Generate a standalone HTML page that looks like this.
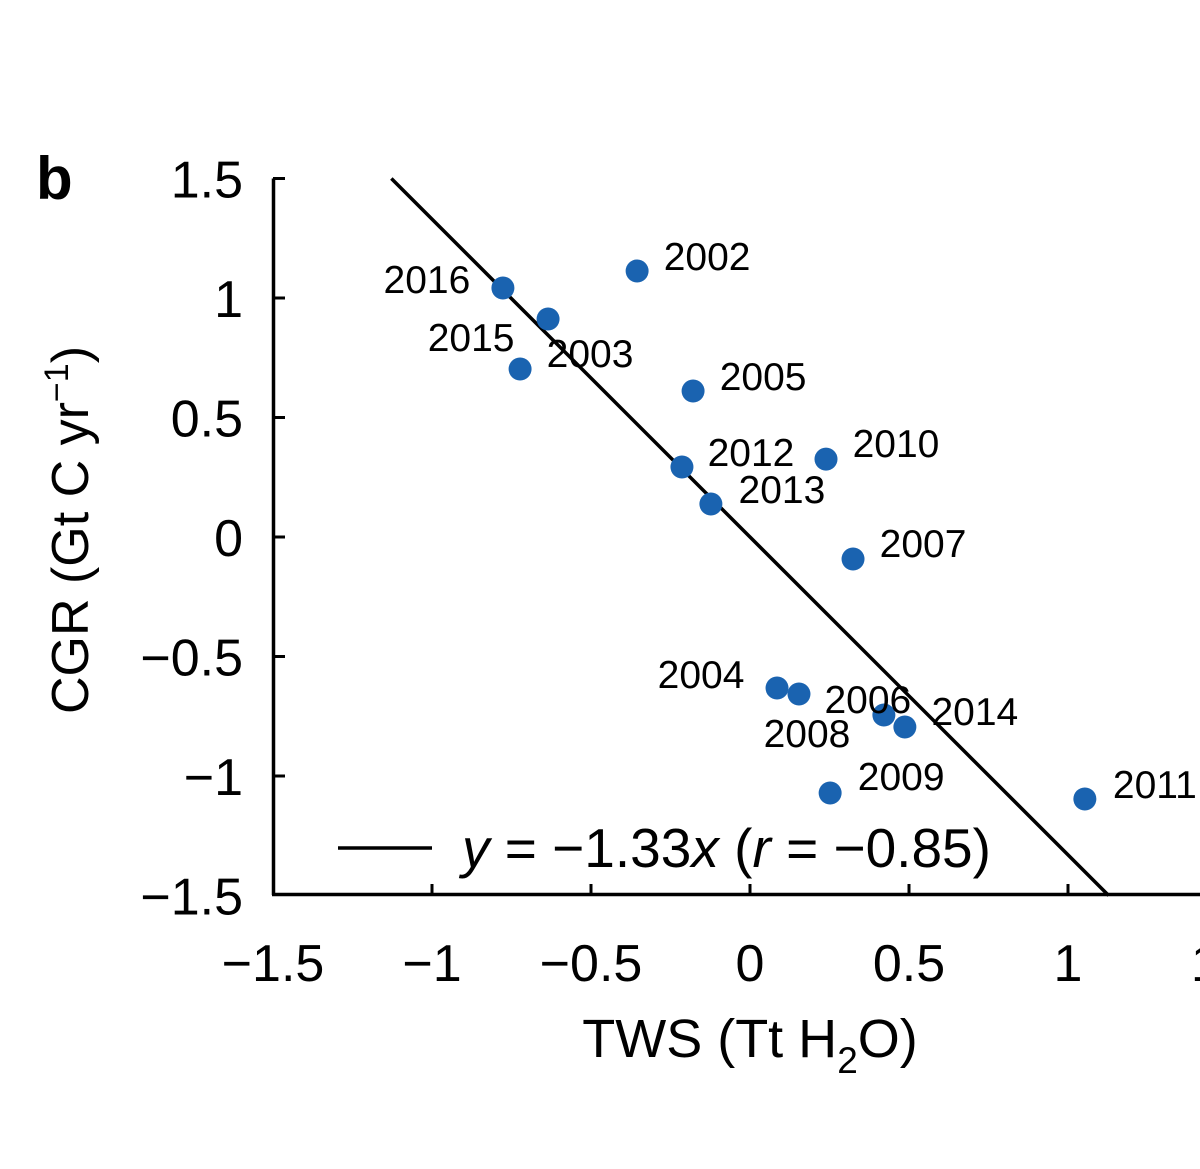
<!DOCTYPE html>
<html><head><meta charset="utf-8"><style>
html,body{margin:0;padding:0;background:#fff;}
svg{display:block;font-family:"Liberation Sans",sans-serif;}
</style></head><body>
<svg id="chart" width="1200" height="1169" viewBox="0 0 1200 1169">
<text x="36" y="199" font-size="60" font-weight="bold">b</text>
<g id="axes"></g>
<g id="fit"></g>
<g id="points"></g>
<g>
<line x1="338" y1="848" x2="432" y2="848" stroke="#000" stroke-width="3.5"/>
<text x="462" y="867" font-size="55"><tspan font-style="italic">y</tspan> = −1.33<tspan font-style="italic">x</tspan> (<tspan font-style="italic">r</tspan> = −0.85)</text>
</g>
<text transform="translate(88,530) rotate(-90)" text-anchor="middle" font-size="52">CGR (Gt C yr<tspan dy="-20" font-size="34">−1</tspan><tspan dy="20">)</tspan></text>
<text x="750" y="1057" text-anchor="middle" font-size="54">TWS (Tt H<tspan dy="16" font-size="37">2</tspan><tspan dy="-16">O)</tspan></text>
</svg>
<script>
const years = ["2016","2003","2015","2002","2005","2012","2013","2010","2007","2004","2008","2006","2014","2009","2011"];
const tws = [-0.777,-0.635,-0.723,-0.355,-0.179,-0.214,-0.123,0.239,0.324,0.085,0.154,0.421,0.487,0.252,1.053];
const cgr = [1.042,0.912,0.703,1.113,0.611,0.293,0.138,0.326,-0.092,-0.632,-0.657,-0.745,-0.795,-1.071,-1.096];
const xTicks = [-1.5,-1,-0.5,0,0.5,1,1.5];
const xTickLabels = ["−1.5","−1","−0.5","0","0.5","1","1.5"];
const yTicks = [-1.5,-1,-0.5,0,0.5,1,1.5];
const yTickLabels = ["−1.5","−1","−0.5","0","0.5","1","1.5"];
const slope = -1.33;
// label offsets (pixels, layout only)
const labelDX = [-76,42,-49,70,70,69,71,70,70,-76,8,-16,70,71,70];
const labelDY = [-8,35,-31,-14,-14,-14,-14,-15,-15,-13,40,-15,-15,-16,-14];
const NS="http://www.w3.org/2000/svg";
const sx = v => 750 + v*318;
const sy = v => 537 - v*239;
function mk(tag, attrs, parent){const e=document.createElementNS(NS,tag);for(const k in attrs)e.setAttribute(k,attrs[k]);parent.appendChild(e);return e;}
const axes=document.getElementById('axes');
let e=mk('line',{x1:273.5,y1:sy(1.5),x2:273.5,y2:895,stroke:'#000','stroke-width':3.5},axes);


e=mk('line',{x1:272,y1:894.5,x2:1200,y2:894.5,stroke:'#000','stroke-width':3.5},axes);


xTicks.forEach((t,i)=>{
  const x=sx(t);
  if(i>0){const l=mk('line',{x1:x,y1:884,x2:x,y2:895,stroke:'#000','stroke-width':3},axes);
  
  }
  const tx=mk('text',{x:x,y:981,'text-anchor':'middle','font-size':52},axes);
  tx.textContent=xTickLabels[i];
  
  
});
yTicks.forEach((t,i)=>{
  const y=sy(t);
  if(i>0){const l=mk('line',{x1:273,y1:y,x2:285,y2:y,stroke:'#000','stroke-width':3},axes);
  
  }
  const tx=mk('text',{x:243,y:y+19,'text-anchor':'end','font-size':52},axes);
  tx.textContent=yTickLabels[i];
  
  
});
const fit=document.getElementById('fit');
const xa=1.5/slope, xb=-1.5/slope;
const fl=mk('line',{x1:sx(xa),y1:sy(slope*xa),x2:sx(xb),y2:sy(slope*xb),stroke:'#000','stroke-width':3.5},fit);


const pts=document.getElementById('points');
years.forEach((yr,i)=>{
  const cx=sx(tws[i]), cy=sy(cgr[i]);
  const c=mk('circle',{cx:cx,cy:cy,r:11.5,fill:'#1a63b0'},pts);
  
  
  const t=mk('text',{x:cx+labelDX[i],y:cy+labelDY[i]+13,'text-anchor':'middle','font-size':39},pts);
  t.textContent=yr;
  
  
});
</script>
</body></html>
